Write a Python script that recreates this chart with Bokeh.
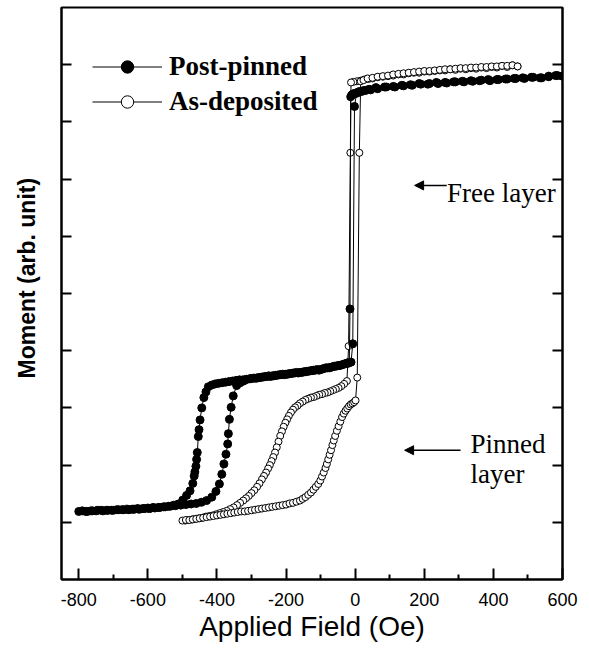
from bokeh.plotting import figure
from bokeh.models import (Range1d, LinearAxis, FixedTicker, Legend, LegendItem,
                          Label, Arrow, NormalHead, Title)
from bokeh.embed import file_html
from bokeh.resources import INLINE

# ---------------- data ----------------
x_ticks = [-800, -600, -400, -200, 0, 200, 400, 600]
x_tick_labels = ["-800", "-600", "-400", "-200", "0", "200", "400", "600"]
x_minor = [-700, -500, -300, -100, 100, 300, 500]
y_ticks = [1, 2, 3, 4, 5, 6, 7, 8, 9]

# Post-pinned, field sweeping down (+600 -> -800)
pp_down_field = [600, 580, 560, 540, 515, 490, 465, 440, 415, 390, 365, 340, 315, 290, 265,
                 240, 215, 190, 165, 140, 115, 90, 65, 45, 30, 18, 8, 0, -6, -10, -13,
                 -15, -17,
                 -25, -35, -45, -55, -65, -75, -85, -95, -105, -115, -125, -135, -145, -155,
                 -165, -175, -185, -195, -205, -215, -225, -235, -245, -255, -265, -275,
                 -285, -295, -305, -315, -325, -335, -345, -355, -365, -375, -385, -395,
                 -405, -415,
                 -425, -432, -438, -444, -449, -452, -454, -457, -459, -461, -464, -466,
                 -470, -478, -488, -499, -512,
                 -525, -540, -555, -570, -585, -600, -615, -630, -645, -660, -675, -690,
                 -705, -720, -735, -750, -765, -780, -800]
pp_down_moment = [8.80, 8.81, 8.79, 8.77, 8.78, 8.76, 8.76, 8.75, 8.74, 8.72, 8.73, 8.71, 8.70,
                  8.70, 8.68, 8.67, 8.67, 8.66, 8.64, 8.63, 8.61, 8.61, 8.58, 8.56, 8.55, 8.53,
                  8.52, 8.50, 8.49, 8.47, 8.44,
                  4.73, 3.80,
                  3.78, 3.76, 3.74, 3.73, 3.72, 3.70, 3.70, 3.68, 3.66, 3.66, 3.65, 3.64, 3.63,
                  3.62, 3.61, 3.61, 3.60, 3.59, 3.58, 3.58, 3.57, 3.56, 3.55, 3.55, 3.54, 3.53,
                  3.52, 3.52, 3.51, 3.50, 3.49, 3.49, 3.48, 3.47, 3.46, 3.45, 3.44, 3.43, 3.42,
                  3.40,
                  3.37, 3.28, 3.18, 3.00, 2.79, 2.62, 2.50, 2.22, 2.10, 1.98, 1.88, 1.81, 1.68,
                  1.55, 1.47, 1.39, 1.32,
                  1.30, 1.28, 1.27, 1.26, 1.26, 1.25, 1.24, 1.24, 1.23, 1.23, 1.22, 1.22, 1.21,
                  1.21, 1.21, 1.20, 1.20, 1.19, 1.19]

# Post-pinned, field sweeping up (-800 -> +600)
pp_up_field = [-790, -775, -760, -745, -730, -715, -700, -685, -670, -655, -640, -625, -610,
               -595, -580, -565, -550, -535, -520, -505, -490, -475, -460, -445, -430,
               -415, -403, -393, -386, -380, -374, -369, -367, -364, -359, -353, -343,
               -333, -323, -313, -303, -290, -280, -270, -260, -250, -240, -230, -220, -210,
               -200, -190, -180, -170, -160, -150, -140, -130, -120, -110, -100, -90, -80,
               -70, -60, -50, -40, -30, -20, -12,
               -7, -2, 4, 12, 25, 40, 60, 85, 110, 135, 160, 185, 210, 235, 260, 285, 310,
               335, 360, 385, 410, 435, 460, 485, 510, 535, 560, 585, 600]
pp_up_moment = [1.20, 1.19, 1.20, 1.21, 1.20, 1.21, 1.21, 1.22, 1.22, 1.22, 1.23, 1.23, 1.24,
                1.24, 1.25, 1.26, 1.27, 1.28, 1.29, 1.30, 1.31, 1.32, 1.33, 1.35, 1.38,
                1.44, 1.54, 1.67, 1.84, 2.02, 2.19, 2.37, 2.55, 2.80, 3.01, 3.21, 3.39,
                3.44, 3.47, 3.50, 3.51, 3.52, 3.53, 3.54, 3.55, 3.56, 3.56, 3.57, 3.58, 3.59,
                3.59, 3.60, 3.61, 3.62, 3.62, 3.63, 3.64, 3.65, 3.66, 3.67, 3.67, 3.69, 3.70,
                3.71, 3.73, 3.74, 3.75, 3.77, 3.78, 3.80,
                4.12, 8.27, 8.50, 8.53, 8.55, 8.57, 8.60, 8.61, 8.62, 8.64, 8.65, 8.67, 8.66,
                8.69, 8.69, 8.70, 8.71, 8.72, 8.72, 8.74, 8.74, 8.75, 8.76, 8.77, 8.78, 8.77,
                8.80, 8.81, 8.80]

# As-deposited, field sweeping down (+470 -> -500)
ad_down_field = [470, 455, 440, 425, 410, 395, 380, 365, 350, 335, 320, 305, 290, 275, 260,
                 245, 230, 215, 200, 185, 170, 155, 140, 125, 110, 95, 80, 65, 50, 38, 26,
                 15, 5, -5, -12,
                 -14, -19, -24,
                 -32, -40, -48, -56, -64, -72, -80, -88, -96, -104, -112, -120, -128, -136,
                 -144, -152, -160, -167, -174, -180, -186, -192, -197, -202, -207, -212,
                 -217, -222, -227, -232, -237, -242, -247, -252, -258, -264, -270, -277,
                 -284, -292, -300, -308, -316, -324, -333, -342, -352, -362, -372, -382,
                 -392, -402, -412, -422, -432, -442, -452, -462, -472, -482, -492, -500]
ad_down_moment = [8.97, 8.99, 8.96, 8.98, 8.95, 8.96, 8.94, 8.95, 8.93, 8.94, 8.92, 8.93, 8.91,
                  8.92, 8.90, 8.90, 8.89, 8.88, 8.88, 8.86, 8.86, 8.85, 8.83, 8.83, 8.81, 8.80,
                  8.79, 8.78, 8.76, 8.75, 8.74, 8.72, 8.71, 8.70, 8.69,
                  7.46, 4.08, 3.47,
                  3.42, 3.38, 3.35, 3.33, 3.31, 3.29, 3.27, 3.26, 3.24, 3.23, 3.21, 3.19, 3.18,
                  3.16, 3.14, 3.11, 3.08, 3.04, 3.01, 2.97, 2.92, 2.86, 2.80, 2.74, 2.67, 2.59,
                  2.51, 2.41, 2.31, 2.22, 2.14, 2.07, 2.00, 1.94, 1.87, 1.81, 1.75, 1.68, 1.62,
                  1.56, 1.51, 1.46, 1.42, 1.38, 1.34, 1.30, 1.26, 1.23, 1.20, 1.18, 1.16, 1.14,
                  1.12, 1.11, 1.10, 1.08, 1.07, 1.06, 1.05, 1.04, 1.03, 1.03]

# As-deposited, field sweeping up (-500 -> +470)
ad_up_field = [-490, -480, -470, -460, -450, -440, -430, -420, -410, -400, -390, -380, -370,
               -360, -350, -340, -330, -320, -310, -300, -290, -280, -270, -260, -250, -240,
               -230, -220, -210, -200, -190, -180, -170, -160, -152, -144, -136, -128, -121,
               -114, -107, -101, -96, -91, -86, -82, -78, -74, -70, -66, -62, -58, -53, -48,
               -43, -38, -33, -28, -23, -18, -13, -8, -3, 1, 6, 12, 16, 24, 36, 50, 65, 80,
               95, 110, 125, 140, 155, 170, 185, 200, 215, 230, 245, 260, 275, 290, 305, 320,
               335, 350, 365, 380, 395, 410, 425, 440, 455, 470]
ad_up_moment = [1.04, 1.04, 1.05, 1.06, 1.07, 1.08, 1.09, 1.10, 1.11, 1.12, 1.13, 1.14, 1.15,
                1.16, 1.17, 1.18, 1.19, 1.19, 1.20, 1.21, 1.22, 1.23, 1.24, 1.25, 1.26, 1.27,
                1.28, 1.29, 1.30, 1.31, 1.33, 1.34, 1.36, 1.38, 1.41, 1.44, 1.48, 1.52, 1.57,
                1.62, 1.67, 1.73, 1.80, 1.87, 1.95, 2.02, 2.10, 2.18, 2.26, 2.35, 2.43, 2.51,
                2.60, 2.68, 2.76, 2.84, 2.90, 2.95, 2.99, 3.03, 3.06, 3.08, 3.10, 3.13, 3.53,
                7.46, 8.71, 8.73, 8.76, 8.77, 8.79, 8.80, 8.81, 8.83, 8.84, 8.85, 8.86, 8.87,
                8.88, 8.89, 8.89, 8.90, 8.91, 8.92, 8.92, 8.93, 8.94, 8.94, 8.95, 8.95, 8.96,
                8.96, 8.97, 8.97, 8.98, 8.98, 8.99, 8.97]

pp_field = pp_down_field + pp_up_field
pp_moment = pp_down_moment + pp_up_moment
ad_field = ad_down_field + ad_up_field
ad_moment = ad_down_moment + ad_up_moment

# ---------------- figure ----------------
SANS = "Liberation Sans"
SERIF = "Liberation Serif"

p = figure(width=589, height=648, x_range=Range1d(-850, 600), y_range=Range1d(0, 10),
           output_backend="svg", toolbar_location=None,
           min_border_left=61, min_border_right=27, min_border_top=7, min_border_bottom=69)
p.grid.visible = False
p.outline_line_color = "black"
p.outline_line_width = 2
p.background_fill_color = "white"
p.border_fill_color = "white"

xa = p.xaxis[0]
xa.ticker = FixedTicker(ticks=x_ticks, minor_ticks=x_minor)
xa.major_label_overrides = {t: l for t, l in zip(x_ticks, x_tick_labels)}
xa.major_tick_in = 11
xa.major_tick_out = 0
xa.minor_tick_in = 5
xa.minor_tick_out = 0
xa.major_tick_line_width = 2
xa.minor_tick_line_width = 2
xa.axis_line_width = 2
xa.major_label_text_font = SANS
xa.major_label_text_font_size = "18px"
xa.major_label_text_color = "black"
xa.major_label_standoff = 13
xa.axis_label = "Applied Field (Oe)"
xa.axis_label_text_font = SANS
xa.axis_label_text_font_style = "normal"
xa.axis_label_text_font_size = "28px"
xa.axis_label_text_color = "black"
xa.axis_label_standoff = 2

ya = p.yaxis[0]
ya.ticker = FixedTicker(ticks=y_ticks, minor_ticks=[])
ya.major_label_overrides = {t: "" for t in y_ticks}
ya.major_tick_in = 10
ya.major_tick_out = 0
ya.major_tick_line_width = 2
ya.axis_line_width = 2
ya.major_label_standoff = 0

ra = LinearAxis(ticker=FixedTicker(ticks=y_ticks, minor_ticks=[]),
                major_label_overrides={t: "" for t in y_ticks},
                major_tick_in=10, major_tick_out=0, major_tick_line_width=2,
                axis_line_width=2, major_label_standoff=0)
p.add_layout(ra, "right")

# invisible spacer axis between the frame and the y title
spacer = LinearAxis(ticker=FixedTicker(ticks=y_ticks, minor_ticks=[]),
                    major_label_overrides={t: "" for t in y_ticks},
                    major_tick_in=0, major_tick_out=22, major_tick_line_color=None,
                    minor_tick_line_color=None, axis_line_color=None,
                    major_label_standoff=0)
p.add_layout(spacer, "left")

p.add_layout(Title(text="Moment (arb. unit)", align="left", offset=201,
                   text_font=SANS, text_font_style="bold", text_font_size="23px",
                   text_color="black", standoff=0), "left")

# ---------------- data renderers ----------------
lo = p.line(ad_field, ad_moment, line_color="black", line_width=1)
so = p.scatter(ad_field, ad_moment, marker="circle", size=7, fill_color="white",
               line_color="black", line_width=1)
lf = p.line(pp_field, pp_moment, line_color="black", line_width=1)
sf = p.scatter(pp_field, pp_moment, marker="circle", size=8, fill_color="black",
               line_color="black", line_width=1)

legend = Legend(items=[LegendItem(label="Post-pinned", renderers=[lf, sf]),
                       LegendItem(label="As-deposited", renderers=[lo, so])],
                location=(31, 462), glyph_width=70, glyph_height=31, label_height=31,
                label_standoff=7, spacing=4, padding=0, margin=0,
                border_line_alpha=0, background_fill_alpha=0,
                label_text_font=SERIF, label_text_font_style="bold",
                label_text_font_size="27px", label_text_color="black")
p.add_layout(legend)

# ---------------- annotations ----------------
p.add_layout(Label(x=266, y=6.75, text="Free layer", text_font=SERIF,
                   text_font_size="27px", text_baseline="alphabetic", text_color="black"))
p.add_layout(Arrow(x_start=265, y_start=6.89, x_end=172, y_end=6.89, line_width=1.5,
                   end=NormalHead(size=9, fill_color="black", line_color="black")))

p.add_layout(Label(x=334, y=2.37, text="Pinned", text_font=SERIF,
                   text_font_size="27px", text_baseline="alphabetic", text_color="black"))
p.add_layout(Label(x=334, y=1.85, text="layer", text_font=SERIF,
                   text_font_size="27px", text_baseline="alphabetic", text_color="black"))
p.add_layout(Arrow(x_start=305, y_start=2.26, x_end=143, y_end=2.26, line_width=1.5,
                   end=NormalHead(size=9, fill_color="black", line_color="black")))

open("out.html", "w").write(file_html(p, INLINE))
